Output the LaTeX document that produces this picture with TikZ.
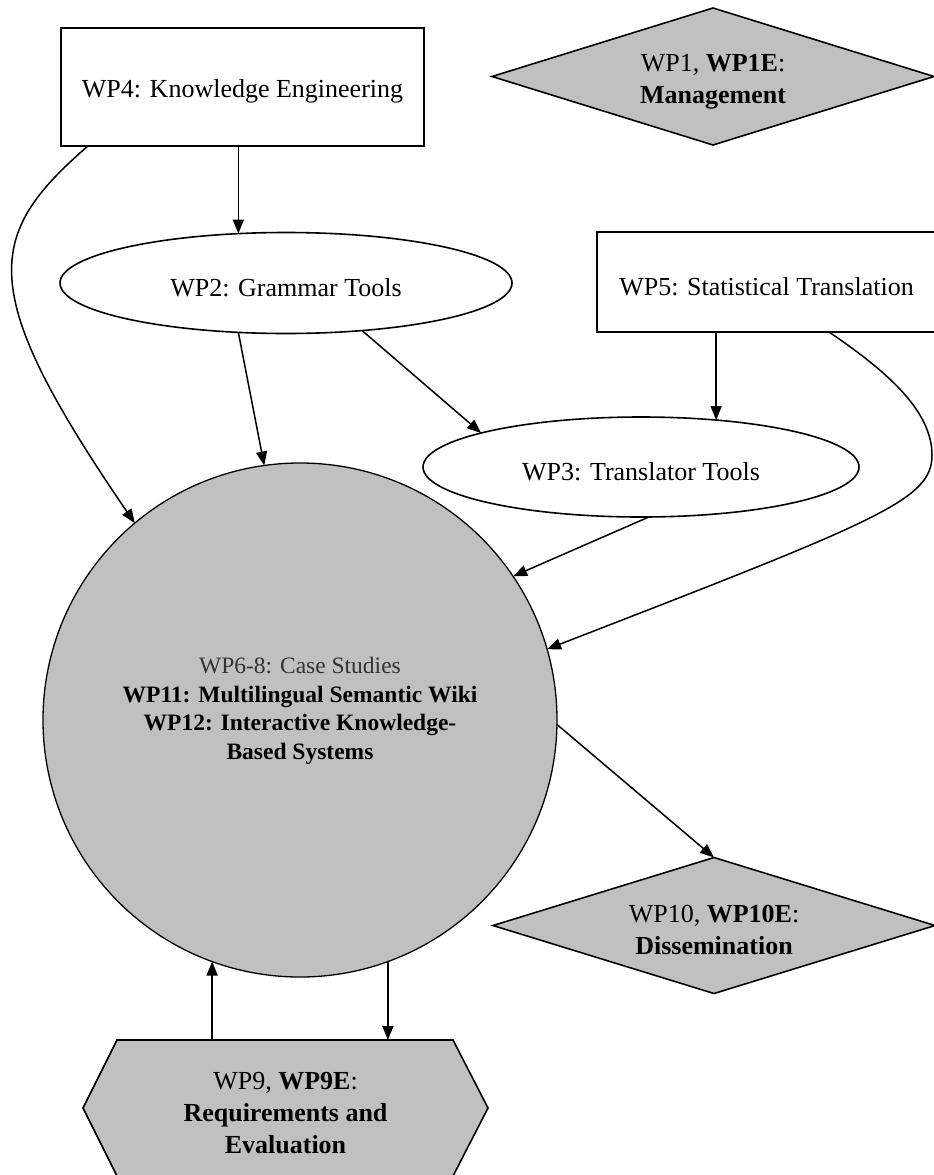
\documentclass[tikz,border=0pt]{standalone}
\usepackage{fontspec}
\setmainfont{Liberation Serif}
\usetikzlibrary{shapes.geometric,arrows.meta,calc,backgrounds}
\definecolor{boxgray}{RGB}{192,192,192}
\newcommand\mystrut{\rule{0pt}{27pt}}
\begin{document}
\begin{tikzpicture}[x=1pt,y=1pt,
  base/.style={draw=black, line width=1.6pt, inner sep=0pt, outer sep=0pt, align=center, font=\fontsize{26}{32}\selectfont},
  whitebox/.style={base, rectangle, fill=white},
  whiteell/.style={base, ellipse, fill=white},
  graydia/.style={base, diamond, fill=boxgray, aspect=3.2},
  arr/.style={line width=1.5pt, -{Triangle[length=14pt,width=11pt]}},
]
\useasboundingbox (0,0) rectangle (934,-1175);

\node[whitebox, minimum width=363pt, minimum height=118pt] (wp4) at (242.5,-87) {\mystrut WP4: Knowledge Engineering};
\node[graydia, minimum width=442pt, minimum height=137pt] (wp1) at (713,-76.5) {\mystrut WP1, \textbf{WP1E}:\\ \textbf{Management}};
\node[whiteell, minimum width=452pt, minimum height=101pt] (wp2) at (286,-283) {\mystrut WP2: Grammar Tools};
\node[whitebox, minimum width=339pt, minimum height=100pt] (wp5) at (766.5,-282) {\mystrut WP5: Statistical Translation};
\node[whiteell, minimum width=436pt, minimum height=100pt] (wp3) at (641,-467) {\mystrut WP3: Translator Tools};
\node[base, circle, fill=boxgray, line width=1.3pt, minimum size=514pt] (cs) at (300,-720) {};
\node[align=center, inner sep=0pt, font=\fontsize{23.5}{28.5}\selectfont] (cstext) at (300,-711)
  {{\color{black!80}WP6-8: Case Studies}\\ \textbf{WP11: Multilingual Semantic Wiki}\\ \textbf{WP12: Interactive Knowledge-}\\ \textbf{Based Systems}};
\node[graydia, minimum width=442pt, minimum height=136pt] (wp10) at (714,-925.5) {\mystrut WP10, \textbf{WP10E}:\\ \textbf{Dissemination}};
\node[base, draw=none, rectangle, minimum width=405pt, minimum height=136pt] (wp9) at (285.5,-1108)
  {\mystrut WP9, \textbf{WP9E}:\\ \textbf{Requirements and}\\ \textbf{Evaluation}};
\begin{scope}[on background layer]
  \fill[white] (0,0) rectangle (934,-1175);
  \draw[line width=1.6pt, fill=boxgray] (wp9.west) -- ($(wp9.north west)+(34,0)$) -- ($(wp9.north east)+(-35,0)$)
    -- (wp9.east) -- ($(wp9.south east)+(-35,0)$) -- ($(wp9.south west)+(34,0)$) -- cycle;
\end{scope}

\draw[arr] (wp4.south -| wp2.134) -- (wp2.134);
\draw[arr] ($(wp4.south west)+(27,0)$) .. controls (-15,-235) and (-25,-290) .. (cs.130);
\draw[arr] (wp2.226) -- (cs.98);
\draw[arr] (wp2.328) -- (wp3.168);
\draw[arr] (wp5.south -| wp3.32) -- (wp3.32);
\draw[arr] ($(wp5.south west)+(232,0)$) .. controls (885,-370) and (932,-410) .. (932,-455)
  .. controls (932,-500) and (880,-520) .. (cs.16);
\draw[arr] (wp3.279) -- (cs.34);
\draw[arr] (cs.-1) -- (wp10.north);
\draw[arr] (wp9.north -| cs.250) -- (cs.250);
\draw[arr] (cs.290) -- (cs.290 |- wp9.north);
\end{tikzpicture}
\end{document}
